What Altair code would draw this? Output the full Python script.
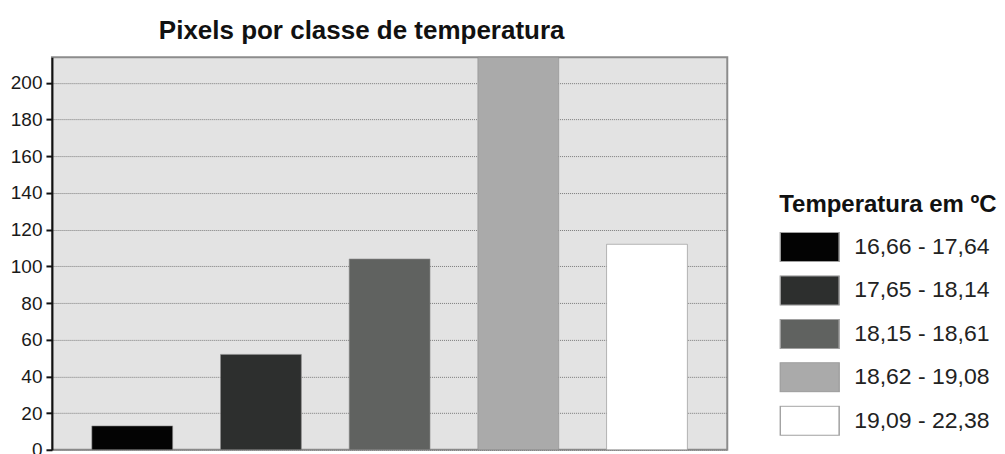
import altair as alt
import pandas as pd

classes = ["16,66 - 17,64", "17,65 - 18,14", "18,15 - 18,61", "18,62 - 19,08", "19,09 - 22,38"]
pixels = [13, 52, 104, 214, 112]
colors = ["#030303", "#2d2f2e", "#606260", "#aaaaaa", "#ffffff"]
y_ticks = [0, 20, 40, 60, 80, 100, 120, 140, 160, 180, 200]

df = pd.DataFrame({"classe": classes, "pixels": pixels})

chart = alt.Chart(df).mark_bar(stroke="#8c8c8c", strokeWidth=1, strokeOpacity=0.6).encode(
    x=alt.X("classe:N", sort=classes, axis=None,
            scale=alt.Scale(paddingInner=0.372, paddingOuter=0.31)),
    y=alt.Y("pixels:Q", title=None,
            scale=alt.Scale(domain=[0, 214], nice=False, zero=True),
            axis=alt.Axis(values=y_ticks, grid=True, gridColor="#7a7a7a", gridDash=[1, 1],
                          gridWidth=1, domainColor="#111111", domainWidth=2,
                          tickColor="#111111", tickWidth=2, tickSize=6, labelPadding=4,
                          labelFont="Liberation Sans", labelFontSize=19, labelColor="#1a1a1a")),
    fill=alt.Fill("classe:N", sort=classes,
                  scale=alt.Scale(domain=classes, range=colors),
                  legend=alt.Legend(title="Temperatura em ºC", orient="none", legendX=728, legendY=136,
                                    padding=0,
                                    symbolType="M-1,-0.5H1V0.5H-1Z", symbolSize=3481,
                                    symbolStrokeColor="#a0a0a0", symbolStrokeWidth=1.5,
                                    clipHeight=30, rowPadding=13.5, labelOffset=14,
                                    labelFont="Liberation Sans", labelFontSize=23, labelColor="#222222",
                                    titleFont="Liberation Sans", titleFontSize=24, titleFontWeight="bold",
                                    titleColor="#111111", titlePadding=15, titleLimit=400)),
).properties(
    width=676, height=393,
    padding={"left": 2, "top": 9, "right": 0, "bottom": 0},
    title=alt.TitleParams("Pixels por classe de temperatura", font="Liberation Sans", fontSize=26,
                          fontWeight="bold", color="#111111", anchor="middle", dx=-28, offset=13),
).configure_view(
    fill="#e3e3e3", stroke="#8c8c8c", strokeWidth=2
)

chart.save("out.html", embed_options={"renderer": "svg", "actions": False})
